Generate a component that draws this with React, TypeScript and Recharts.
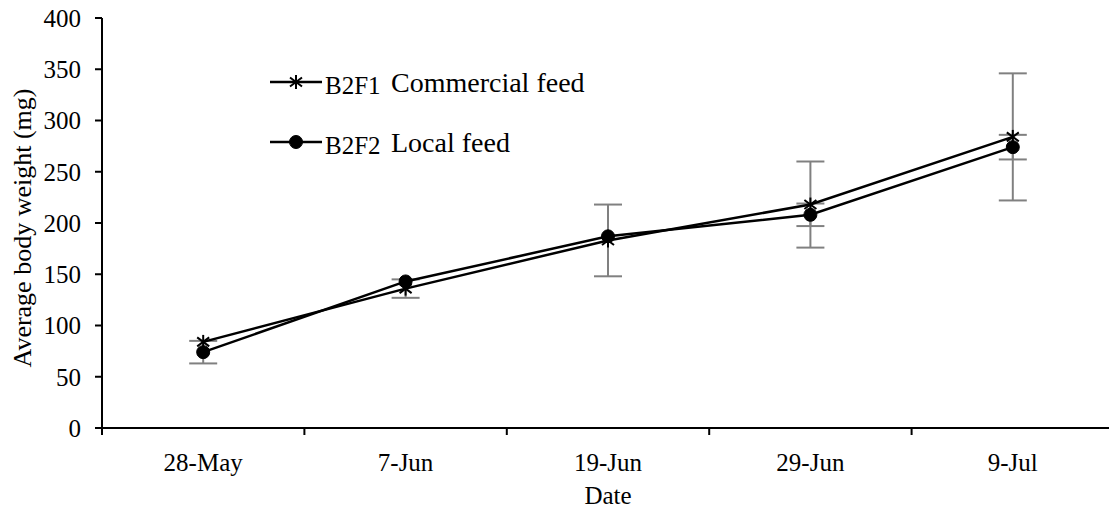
import React from 'react';
import { LineChart, Line, XAxis, YAxis, ErrorBar, Legend } from 'recharts';

const FONT = '"Liberation Serif", "Times New Roman", serif';

const dates = ['28-May', '7-Jun', '19-Jun', '29-Jun', '9-Jul'];
const commercial = [84, 136, 183, 218, 284];
const commercialErr = [0, 9, 35, 42, 62];
const local = [74, 143, 187, 208, 274];
const localErr = [11, 0, 0, 11, 12];
const yTicks = [0, 50, 100, 150, 200, 250, 300, 350, 400];
const seriesCodes = ['B2F1', 'B2F2'];
const seriesNames = ['Commercial feed', 'Local feed'];

const data = dates.map((d, i) => ({
  pos: i + 0.5,
  date: d,
  commercial: commercial[i],
  commercialErr: commercialErr[i],
  local: local[i],
  localErr: localErr[i],
}));

const xTicks: number[] = [];
for (let i = 0; i <= dates.length; i++) {
  xTicks.push(i);
  if (i < dates.length) xTicks.push(i + 0.5);
}

const Asterisk = ({ cx, cy }: { cx: number; cy: number }) => (
  <g>
    <line x1={cx} y1={cy - 7} x2={cx} y2={cy + 7} stroke="#000" strokeWidth={2} />
    <line x1={cx - 6} y1={cy - 4.5} x2={cx + 6} y2={cy + 4.5} stroke="#000" strokeWidth={2} />
    <line x1={cx - 6} y1={cy + 4.5} x2={cx + 6} y2={cy - 4.5} stroke="#000" strokeWidth={2} />
  </g>
);

const Circle = ({ cx, cy }: { cx: number; cy: number }) => (
  <circle cx={cx} cy={cy} r={6.5} fill="#000" stroke="#000" strokeWidth={1} />
);

const XTick = (props: any) => {
  const { x, y, payload } = props;
  const v = payload.value as number;
  if (Number.isInteger(v)) {
    return <line x1={x} x2={x} y1={y - 8} y2={y - 1} stroke="#000" strokeWidth={2} />;
  }
  return (
    <text x={x} y={y + 35} textAnchor="middle" fontSize={25} fontFamily={FONT} fill="#000">
      {dates[Math.floor(v)]}
    </text>
  );
};

const LegendContent = () => (
  <svg width={360} height={110} style={{ overflow: 'visible' }}>
    {[0, 1].map((r) => {
      const ly = 22 + r * 60;
      return (
        <g key={r}>
          <line x1={10} x2={62} y1={ly} y2={ly} stroke="#000" strokeWidth={2.5} />
          {r === 0 ? <Asterisk cx={36} cy={ly} /> : <Circle cx={36} cy={ly} />}
          <text x={65} y={ly + 12} fontSize={25} fontFamily={FONT} fill="#000">
            {seriesCodes[r]}
          </text>
          <text x={131} y={ly + 10} fontSize={28} fontFamily={FONT} fill="#000">
            {seriesNames[r]}
          </text>
        </g>
      );
    })}
  </svg>
);

const YLabel = (props: any) => {
  const vb = props.viewBox;
  const cy = vb.y + vb.height / 2 + 5;
  const cx = 22;
  return (
    <text
      x={cx}
      y={cy}
      transform={`rotate(-90, ${cx}, ${cy})`}
      textAnchor="middle"
      dominantBaseline="central"
      fontSize={26}
      fontFamily={FONT}
      fill="#000"
    >
      Average body weight (mg)
    </text>
  );
};

export default function App() {
  return (
    <div
      style={{
        position: 'absolute',
        left: 0,
        top: 0,
        width: 1109,
        height: 512,
        overflow: 'hidden',
        background: '#fff',
      }}
    >
      <LineChart
        width={1116}
        height={512}
        data={data}
        margin={{ top: 18, right: 2, bottom: 0, left: 0 }}
        style={{ fontFamily: FONT }}
      >
        <XAxis
          dataKey="pos"
          type="number"
          domain={[0, dates.length]}
          ticks={xTicks}
          interval={0}
          height={84}
          tickLine={false}
          tickSize={6}
          tickMargin={2}
          axisLine={{ stroke: '#000', strokeWidth: 2 }}
          tick={<XTick />}
          label={{
            value: 'Date',
            position: 'insideBottom',
            offset: 8,
            fontSize: 25,
            fontFamily: FONT,
            fill: '#000',
          }}
        />
        <YAxis
          width={102}
          domain={[0, 400]}
          ticks={yTicks}
          interval={0}
          tickSize={7}
          tickMargin={14}
          axisLine={{ stroke: '#000', strokeWidth: 2 }}
          tickLine={{ stroke: '#000', strokeWidth: 2 }}
          tick={{ fontSize: 25, fontFamily: FONT, fill: '#000' }}
          label={<YLabel />}
        />
        {/* error bars first so they sit beneath all lines and markers */}
        <Line
          dataKey="commercial"
          stroke="none"
          dot={false}
          activeDot={false}
          legendType="none"
          isAnimationActive={false}
        >
          <ErrorBar dataKey="commercialErr" width={14} strokeWidth={2} stroke="#808080" direction="y" />
        </Line>
        <Line
          dataKey="local"
          stroke="none"
          dot={false}
          activeDot={false}
          legendType="none"
          isAnimationActive={false}
        >
          <ErrorBar dataKey="localErr" width={14} strokeWidth={2} stroke="#808080" direction="y" />
        </Line>
        <Line
          dataKey="local"
          stroke="#000"
          strokeWidth={2.5}
          isAnimationActive={false}
          activeDot={false}
          dot={(p: any) => <Circle key={`l${p.index}`} cx={p.cx} cy={p.cy} />}
        />
        <Line
          dataKey="commercial"
          stroke="#000"
          strokeWidth={2.5}
          isAnimationActive={false}
          activeDot={false}
          dot={(p: any) => <Asterisk key={`c${p.index}`} cx={p.cx} cy={p.cy} />}
        />
        <Legend
          content={<LegendContent />}
          layout="vertical"
          align="center"
          verticalAlign="middle"
          wrapperStyle={{ left: 260, top: 60, width: 360, height: 110 }}
        />
      </LineChart>
    </div>
  );
}
